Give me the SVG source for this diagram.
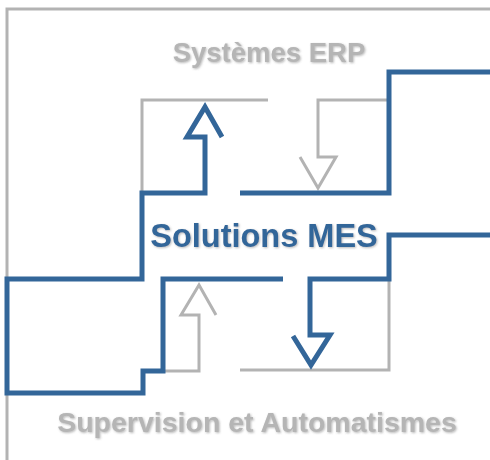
<svg xmlns="http://www.w3.org/2000/svg" width="490" height="460" viewBox="0 0 490 460">
<defs>
<filter id="sh" x="-5%" y="-20%" width="110%" height="140%">
<feDropShadow dx="1" dy="1" stdDeviation="0.8" flood-color="#666666" flood-opacity="0.45"/>
</filter>
</defs>
<style>
.frame{fill:none;stroke:#B3B3B3;stroke-width:3}
.grey{fill:none;stroke:#B3B3B3;stroke-width:3;stroke-linejoin:miter}
.blue{fill:none;stroke:#336699;stroke-width:5;stroke-linejoin:miter}
.lbl{font-family:"Liberation Sans",Arial,sans-serif;font-weight:bold;font-size:27.5px;text-anchor:middle;filter:url(#sh)}
.g{fill:#B5B5B5}
.b{fill:#336699;font-size:32.5px}
.big{font-size:28.5px}
</style>
<rect width="490" height="460" fill="#FFFFFF"/>
<path class="frame" d="M7,460 V9 H490"/>
<g id="connectors">
<path class="grey" d="M268,100 H142 V193"/>
<path class="grey" d="M387,100 H318 V157 H336 L318,188 L300,157"/>
<path class="grey" d="M240,370 H389 V279"/>
<path class="grey" d="M163,371 H199 V315 H181 L199,285 L216,315"/>
<path class="blue" d="M283,279 H163 V371 H143 V393 H7 V279 H142 V193 H205 V137 H187 L205,107 L222,137"/>
<path class="blue" d="M240,193 H389 V72 H490"/>
<path class="blue" d="M490,235 H389 V279 H310 V335 H330 L311,365 L293,336"/>
</g>
<g id="erp"><text class="lbl g" x="269" y="62">Systèmes ERP</text></g>
<g id="mes"><text class="lbl b" x="264" y="247">Solutions MES</text></g>
<g id="supervision"><text class="lbl g big" x="257" y="432">Supervision et Automatismes</text></g>
</svg>
